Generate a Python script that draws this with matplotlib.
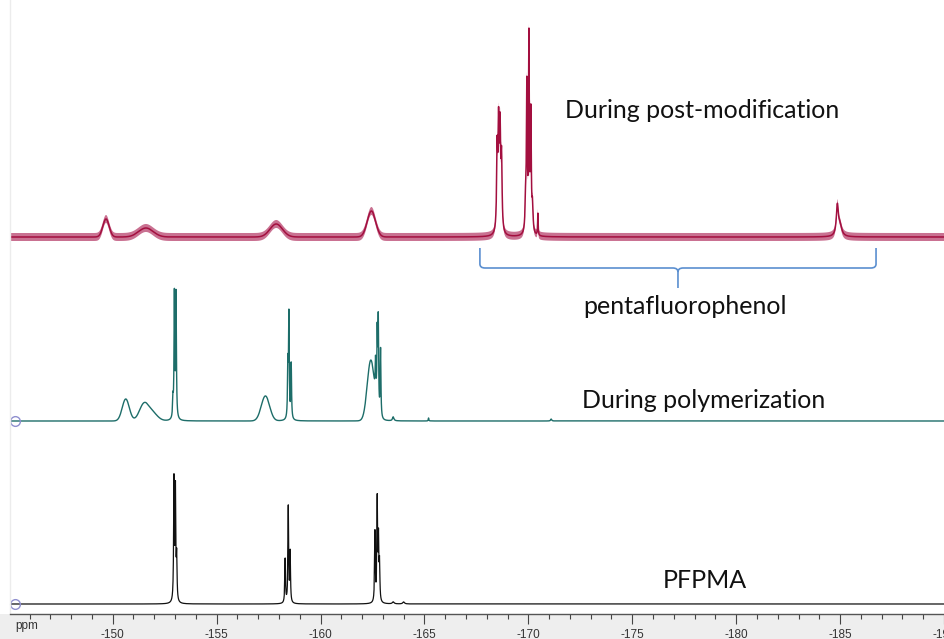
import numpy as np
import matplotlib
matplotlib.use("Agg")
import matplotlib.pyplot as plt
from matplotlib.path import Path
from matplotlib.patches import PathPatch, Rectangle

# ---------------- data ----------------
# peaks: (shift ppm, height in display units, width ppm, shape 'L' lorentz / 'G' gauss)
pfpma_peaks = [
    (-152.95, 121, 0.020, 'L'), (-153.02, 110, 0.020, 'L'), (-153.08, 42, 0.020, 'L'),
    (-158.30, 44, 0.020, 'L'), (-158.45, 96, 0.020, 'L'), (-158.54, 50, 0.020, 'L'),
    (-162.62, 70, 0.020, 'L'), (-162.73, 101, 0.020, 'L'), (-162.79, 60, 0.020, 'L'),
    (-162.84, 36, 0.020, 'L'),
    (-163.50, 2, 0.050, 'L'), (-164.00, 2, 0.050, 'L'),
]
polym_peaks = [
    (-150.63, 22, 0.17, 'G'), (-151.50, 16, 0.22, 'G'), (-151.90, 8, 0.25, 'G'),
    (-152.90, 18, 0.020, 'L'), (-152.97, 124, 0.020, 'L'), (-153.05, 124, 0.020, 'L'),
    (-157.35, 25, 0.20, 'G'),
    (-158.43, 52, 0.020, 'L'), (-158.48, 103, 0.020, 'L'), (-158.59, 55, 0.020, 'L'),
    (-162.42, 60, 0.17, 'G'),
    (-162.65, 35, 0.020, 'L'), (-162.73, 72, 0.020, 'L'), (-162.78, 90, 0.020, 'L'),
    (-162.89, 68, 0.020, 'L'),
    (-163.50, 4, 0.040, 'L'), (-165.20, 3, 0.015, 'L'), (-171.10, 2, 0.030, 'L'),
]
postmod_peaks = [
    (-149.68, 18, 0.15, 'G'), (-151.60, 9, 0.35, 'G'), (-157.87, 13, 0.30, 'G'),
    (-162.45, 26, 0.20, 'G'),
    (-168.50, 80, 0.030, 'L'), (-168.57, 100, 0.030, 'L'), (-168.64, 95, 0.030, 'L'),
    (-168.71, 70, 0.030, 'L'),
    (-169.87, 30, 0.030, 'L'), (-169.93, 145, 0.025, 'L'), (-170.03, 190, 0.020, 'L'),
    (-170.12, 118, 0.025, 'L'), (-170.20, 25, 0.030, 'L'), (-170.46, 22, 0.015, 'L'),
    (-184.87, 30, 0.060, 'L'), (-185.00, 10, 0.100, 'L'),
]
baselines = {"PFPMA": 10, "During polymerization": 193, "During post-modification": 377}
colors = {"PFPMA": "#111111", "During polymerization": "#1d6d69",
          "During post-modification": "#a30f3f"}
major_ticks = [-150, -155, -160, -165, -170, -175, -180, -185, -190]
brace_span = (-167.67, -186.73)
x_range = (-145.06, -189.68)

# ---------------- build spectra ----------------
x = np.arange(-190.5, -144.5, 0.002)


def spectrum(peaks):
    y = np.zeros_like(x)
    for c, h, w, kind in peaks:
        if kind == 'L':
            y += h / (1 + ((x - c) / w) ** 2)
        else:
            y += h * np.exp(-0.5 * ((x - c) / w) ** 2)
    return y


W, H = 944, 639
fig = plt.figure(figsize=(W / 100, H / 100), dpi=100)
fig.patch.set_facecolor("white")
# gray strip under axis
fig.add_artist(Rectangle((0, 0), 1, 25 / H, transform=fig.transFigure,
                         facecolor="#eeeeee", edgecolor="none", zorder=0))

ax = fig.add_axes([10 / W, 25 / H, 934 / W, 614 / H])
ax.set_facecolor("white")
ax.set_xlim(x_range)
ax.set_ylim(0, 614)

for spine in ["top", "right"]:
    ax.spines[spine].set_visible(False)
ax.spines["left"].set_color("#ececec")
ax.spines["left"].set_linewidth(1.0)
ax.spines["bottom"].set_color("#555555")
ax.spines["bottom"].set_linewidth(1.0)
ax.set_yticks([])

ax.set_xticks(major_ticks)
ax.set_xticklabels([str(t) for t in major_ticks], fontsize=8.5,
                   family="Liberation Sans", color="#333333")
ax.set_xticks(np.arange(-189, -145, 1), minor=True)
ax.tick_params(axis="x", which="major", direction="out", length=7, width=0.8,
               color="#444444", pad=3.5)
ax.tick_params(axis="x", which="minor", direction="out", length=3.5, width=0.8,
               color="#444444")

# PFPMA
b = baselines["PFPMA"]
ax.plot(x, b + spectrum(pfpma_peaks), color=colors["PFPMA"], lw=0.9)
# polymerization
b = baselines["During polymerization"]
ax.plot(x, b + spectrum(polym_peaks), color=colors["During polymerization"], lw=1.0)
# post-modification (noisy band look)
b = baselines["During post-modification"]
yr = b + spectrum(postmod_peaks)
ax.fill_between(x, yr - 4, yr + 4, color="#b8416d", alpha=0.75, lw=0)
ax.plot(x, yr, color=colors["During post-modification"], lw=1.1)

# reference circles
for key in ["PFPMA", "During polymerization"]:
    ax.plot([-145.30], [baselines[key]], marker="o", ms=7, mfc="none",
            mec="#8f8fcf", mew=1.0, clip_on=False)

# brace
x0, x1 = brace_span
xm = (x0 + x1) / 2
yb = 614 - 268
top = yb + 20
dx = 0.25
r = 4
verts = [(x0, top), (x0, yb + r), (x0, yb), (x0 - dx, yb),
         (xm + dx, yb), (xm, yb), (xm, yb - r), (xm, yb - 20),
         (xm, yb - r), (xm, yb), (xm - dx, yb),
         (x1 + dx, yb), (x1, yb), (x1, yb + r), (x1, top)]
codes = [Path.MOVETO, Path.LINETO, Path.CURVE3, Path.CURVE3,
         Path.LINETO, Path.CURVE3, Path.CURVE3, Path.LINETO,
         Path.MOVETO, Path.CURVE3, Path.CURVE3,
         Path.LINETO, Path.CURVE3, Path.CURVE3, Path.LINETO]
ax.add_patch(PathPatch(Path(verts, codes), facecolor="none", edgecolor="#5b8fd0",
                       lw=1.2))

# labels
lab_font = dict(family="Lato", fontsize=18, color="#111111", va="center", ha="left")
ax.text(-171.76, 614 - 110, "During post-modification", **lab_font)
ax.text(-172.62, 614 - 307, "pentafluorophenol", **lab_font)
ax.text(-172.57, 614 - 400, "During polymerization", **lab_font)
ax.text(-176.49, 614 - 580, "PFPMA", **lab_font)

fig.text(15 / W, (H - 626) / H, "ppm", fontsize=8.5, family="Liberation Sans",
         color="#333333", va="center", ha="left")

fig.savefig("out.png", dpi=100)
